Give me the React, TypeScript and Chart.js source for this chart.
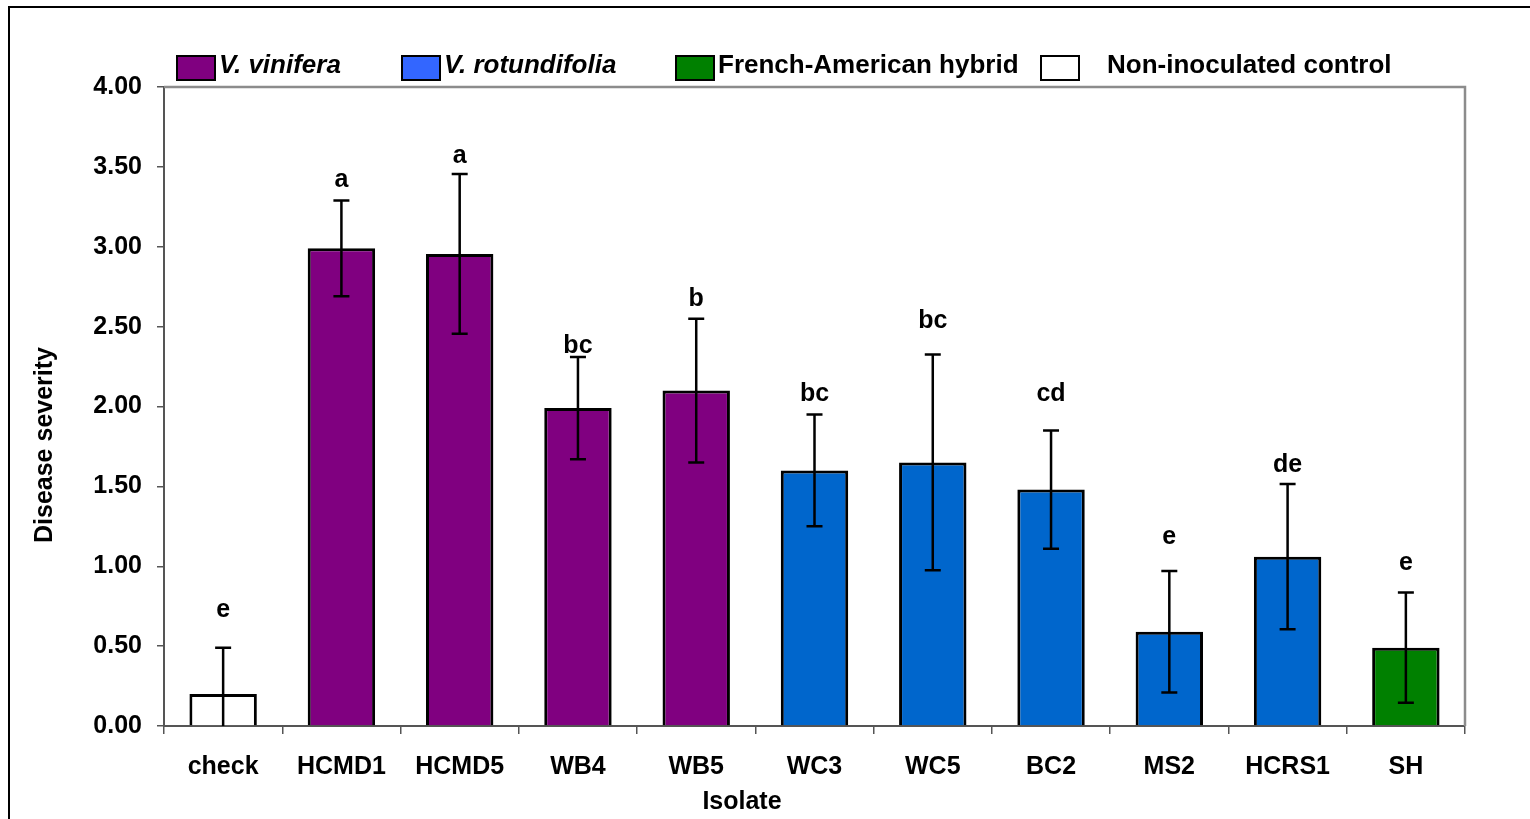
import React, { useEffect, useRef } from "react";
import { Chart, registerables } from "chart.js";

Chart.register(...registerables);

// ---- data ----
const categories = ["check", "HCMD1", "HCMD5", "WB4", "WB5", "WC3", "WC5", "BC2", "MS2", "HCRS1", "SH"];
const means = [0.2, 2.99, 2.955, 1.99, 2.1, 1.6, 1.65, 1.48, 0.59, 1.06, 0.49];
const errors = [0.29, 0.3, 0.5, 0.32, 0.45, 0.35, 0.675, 0.37, 0.38, 0.455, 0.345];
const letters = ["e", "a", "a", "bc", "b", "bc", "bc", "cd", "e", "de", "e"];
const letterValues = [0.726, 3.42, 3.57, 2.38, 2.67, 2.08, 2.535, 2.08, 1.18, 1.63, 1.02];
const groups = ["control", "vinifera", "vinifera", "vinifera", "vinifera", "rotundifolia", "rotundifolia", "rotundifolia", "rotundifolia", "rotundifolia", "hybrid"];
const yTicks = [0, 0.5, 1, 1.5, 2, 2.5, 3, 3.5, 4];
const legendLabels = ["V. vinifera", "V. rotundifolia", "French-American hybrid", "Non-inoculated control"];
const legendGroups = ["vinifera", "rotundifolia", "hybrid", "control"];
const legendItalic = [true, true, false, false];
const xTitle = "Isolate";
const yTitle = "Disease severity";

// ---- styles ----
const barColors: Record<string, string> = {
  vinifera: "#800080",
  rotundifolia: "#0066CC",
  hybrid: "#008000",
  control: "#FFFFFF",
};
const legendColors: Record<string, string> = {
  vinifera: "#800080",
  rotundifolia: "#3366FF",
  hybrid: "#008000",
  control: "#FFFFFF",
};
const FONT = "'Liberation Sans', Arial, Helvetica, sans-serif";
// legend layout (box left, text left) in canvas pixels
const legendBoxX = [177, 402, 676, 1041];
const legendTextX = [219, 444, 718, 1107];

const overlayPlugin = {
  id: "overlay",
  afterDatasetsDraw(chart: any) {
    const ctx = chart.ctx;
    const y = chart.scales.y;
    const meta = chart.getDatasetMeta(0);
    ctx.save();
    // error bars
    ctx.strokeStyle = "#000";
    ctx.lineWidth = 2.5;
    meta.data.forEach((el: any, i: number) => {
      const x = el.x;
      const top = y.getPixelForValue(means[i] + errors[i]);
      const lowV = Math.max(means[i] - errors[i], 0);
      const bot = y.getPixelForValue(lowV);
      ctx.beginPath();
      ctx.moveTo(x, top);
      ctx.lineTo(x, bot);
      ctx.moveTo(x - 8, top);
      ctx.lineTo(x + 8, top);
      if (lowV > 0) {
        ctx.moveTo(x - 8, bot);
        ctx.lineTo(x + 8, bot);
      }
      ctx.stroke();
    });
    // letters
    ctx.fillStyle = "#000";
    ctx.font = `bold 25px ${FONT}`;
    ctx.textAlign = "center";
    ctx.textBaseline = "middle";
    meta.data.forEach((el: any, i: number) => {
      ctx.fillText(letters[i], el.x, y.getPixelForValue(letterValues[i]));
    });
    ctx.restore();
  },
  afterDraw(chart: any) {
    const ctx = chart.ctx;
    const a = chart.chartArea;
    ctx.save();
    // top and right frame of the plot area
    ctx.strokeStyle = "#8c8c8c";
    ctx.lineWidth = 2.5;
    ctx.beginPath();
    ctx.moveTo(a.left, a.top);
    ctx.lineTo(a.right, a.top);
    ctx.lineTo(a.right, a.bottom);
    ctx.stroke();
    // legend
    legendLabels.forEach((lab, i) => {
      ctx.fillStyle = legendColors[legendGroups[i]];
      ctx.fillRect(legendBoxX[i], 56, 38, 24);
      ctx.strokeStyle = "#000";
      ctx.lineWidth = 2;
      ctx.strokeRect(legendBoxX[i], 56, 38, 24);
      ctx.fillStyle = "#000";
      ctx.font = `${legendItalic[i] ? "italic " : ""}bold 26px ${FONT}`;
      ctx.textAlign = "left";
      ctx.textBaseline = "alphabetic";
      ctx.fillText(lab, legendTextX[i], 73);
    });
    // axis titles
    ctx.font = `bold 25px ${FONT}`;
    ctx.textAlign = "center";
    ctx.textBaseline = "middle";
    ctx.fillText(xTitle, 742, 802);
    ctx.translate(45, 445);
    ctx.rotate(-Math.PI / 2);
    ctx.fillText(yTitle, 0, 0);
    ctx.restore();
  },
};

export default function App() {
  const ref = useRef<HTMLCanvasElement>(null);
  useEffect(() => {
    if (!ref.current) return;
    const chart = new Chart(ref.current, {
      type: "bar",
      data: {
        labels: categories,
        datasets: [
          {
            data: means,
            backgroundColor: groups.map((g) => barColors[g]),
            borderColor: "#000",
            borderWidth: 3,
            barPercentage: 0.57,
            categoryPercentage: 1,
          },
        ],
      },
      options: {
        responsive: false,
        animation: false,
        devicePixelRatio: 1,
        layout: { padding: { left: 0, top: 87, right: 65, bottom: 0 } },
        plugins: { legend: { display: false }, tooltip: { enabled: false }, title: { display: false } },
        scales: {
          x: {
            offset: true,
            grid: { display: true, drawOnChartArea: false, offset: true, tickLength: 8, color: "#555", lineWidth: 1.5 },
            border: { display: true, color: "#555", width: 2 },
            ticks: { color: "#000", font: { family: FONT, size: 25, weight: "bold" }, padding: 18, maxRotation: 0 },
            afterFit: (s: any) => {
              s.height = 93;
            },
          },
          y: {
            min: 0,
            max: 4,
            afterBuildTicks: (s: any) => {
              s.ticks = yTicks.map((v) => ({ value: v }));
            },
            grid: { display: true, drawOnChartArea: false, tickLength: 7, color: "#555", lineWidth: 1.5 },
            border: { display: true, color: "#555", width: 2 },
            ticks: {
              color: "#000",
              font: { family: FONT, size: 25, weight: "bold" },
              padding: 15,
              callback: (v: any) => Number(v).toFixed(2),
            },
            afterFit: (s: any) => {
              s.width = 164;
            },
          },
        },
      },
      plugins: [overlayPlugin],
    });
    return () => chart.destroy();
  }, []);
  return (
    <div style={{ position: "fixed", inset: 0, overflow: "hidden", background: "#fff" }}>
      <div
        style={{
          position: "absolute",
          left: 8,
          top: 6,
          width: 2000,
          height: 2000,
          border: "2px solid #000",
        }}
      />
      <canvas ref={ref} width={1530} height={819} style={{ position: "absolute", left: 0, top: 0, width: 1530, height: 819 }} />
    </div>
  );
}
